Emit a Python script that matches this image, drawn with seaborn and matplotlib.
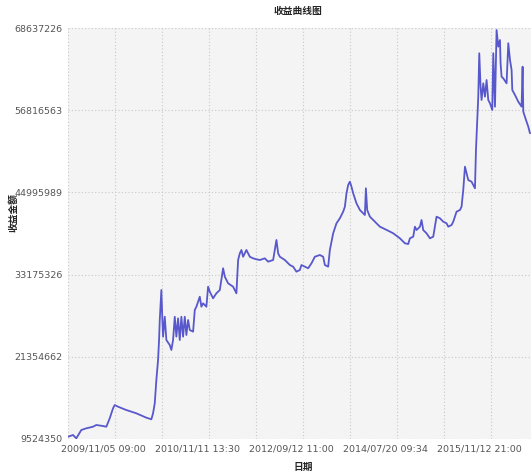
import matplotlib
matplotlib.use("Agg")
import matplotlib.pyplot as plt
import matplotlib.transforms as mtransforms
import seaborn as sns
import pandas as pd

# 收益曲线数据 (按序号取样, 数值单位: 百万)
idx = [0, 50, 83, 133, 183, 250, 283, 350, 383, 417, 450, 467, 500, 583, 683, 783, 833, 850,
       867, 883, 900, 910, 917, 933, 943, 950, 967, 983, 1017, 1033, 1050, 1067, 1083, 1100,
       1117, 1133, 1150, 1167, 1183, 1200, 1217, 1250, 1267, 1283, 1317, 1333, 1350, 1383,
       1400, 1417, 1450, 1483, 1517, 1550, 1567, 1600, 1650, 1683, 1700, 1717, 1733, 1750,
       1783, 1817, 1850, 1883, 1917, 1967, 2000, 2050, 2083, 2100, 2117, 2167, 2217, 2250,
       2283, 2317, 2333, 2367, 2400, 2433, 2467, 2517, 2550, 2567, 2600, 2617, 2650, 2683,
       2717, 2750, 2767, 2783, 2800, 2817, 2833, 2850, 2883, 2917, 2950, 2967, 2977, 2990,
       3017, 3050, 3083, 3117, 3150, 3200, 3250, 3317, 3367, 3400, 3417, 3450, 3467, 3483,
       3517, 3533, 3550, 3583, 3617, 3650, 3667, 3683, 3717, 3750, 3783, 3800, 3833, 3850,
       3867, 3883, 3917, 3933, 3950, 3967, 3983, 4000, 4033, 4067, 4077, 4090, 4100, 4110,
       4123, 4133, 4150, 4167, 4183, 4200, 4217, 4240, 4250, 4267, 4283, 4300, 4317, 4323,
       4333, 4350, 4383, 4400, 4417, 4433, 4440, 4467, 4500, 4533, 4543, 4550, 4577, 4600, 4617]
profit_m = [9.85, 10.10, 9.62, 10.82, 11.06, 11.29, 11.54, 11.39, 11.29, 12.50, 13.94, 14.41,
            14.17, 13.69, 13.22, 12.59, 12.36, 13.22, 14.66, 18.01, 20.89, 23.76, 26.64, 30.95,
            26.64, 24.24, 27.11, 23.76, 23.04, 22.33, 23.76, 27.11, 24.24, 26.88, 23.76, 27.11,
            24.24, 27.11, 24.48, 26.64, 25.20, 24.96, 28.08, 28.55, 29.99, 28.55, 29.04, 28.55,
            31.43, 30.71, 29.76, 30.48, 30.95, 34.08, 32.87, 31.92, 31.43, 30.48, 35.27, 36.23,
            36.71, 35.74, 36.71, 35.74, 35.51, 35.37, 35.27, 35.51, 35.03, 35.27, 38.15, 36.23,
            35.74, 35.27, 34.55, 34.31, 33.59, 33.83, 34.55, 34.31, 34.08, 34.79, 35.74, 35.99,
            35.74, 34.55, 34.31, 36.71, 39.11, 40.55, 41.27, 42.22, 42.94, 44.86, 46.06, 46.53,
            45.81, 44.86, 43.42, 42.46, 41.99, 41.74, 45.58, 42.46, 41.50, 41.02, 40.55, 40.06,
            39.83, 39.48, 39.11, 38.39, 37.67, 37.57, 38.39, 38.62, 40.06, 39.58, 40.06, 41.02,
            39.58, 39.11, 38.39, 38.62, 40.06, 41.50, 41.27, 40.78, 40.55, 40.06, 40.30, 40.78,
            41.50, 42.22, 42.46, 42.94, 45.34, 48.69, 47.74, 46.77, 46.53, 45.58, 51.09, 55.40,
            58.76, 65.00, 60.19, 58.28, 60.68, 58.76, 61.16, 58.28, 57.81, 56.84, 65.00, 57.32,
            68.35, 65.95, 66.91, 63.56, 61.63, 61.40, 60.68, 66.44, 64.04, 62.60, 59.72, 59.00,
            58.04, 57.32, 63.07, 56.60, 55.40, 54.44, 53.49]

y_ticks = [9524350, 21354662, 33175326, 44995989, 56816563, 68637226]
x_ticks = [0, 470, 940, 1410, 1880, 2350, 2820, 3290, 3760, 4230]
x_labels = ["", "2009/11/05 09:00", "", "2010/11/11 13:30", "", "2012/09/12 11:00", "",
            "2014/07/20 09:34", "", "2015/11/12 21:00"]

df = pd.DataFrame({"idx": idx, "profit": [v * 1e6 for v in profit_m]})

sns.set_theme(style="whitegrid")
plt.rcParams["font.family"] = ["Noto Sans CJK SC", "DejaVu Sans"]

fig = plt.figure(figsize=(5.31, 4.76), dpi=100)
ax = fig.add_axes([68 / 531, 1 - 439 / 476, 1 - 68 / 531, 411 / 476])
ax.set_facecolor("#f4f4f4")

sns.lineplot(data=df, x="idx", y="profit", ax=ax, color="#5858cc", linewidth=1.3)

ax.set_xlim(0, 4627)
ax.set_ylim(y_ticks[0], y_ticks[-1])
ax.set_yticks(y_ticks)
ax.set_yticklabels([str(v) for v in y_ticks], family="DejaVu Sans")
ax.set_xticks(x_ticks)
ax.set_xticklabels(x_labels, family="DejaVu Sans")
ax.tick_params(axis="both", labelsize=6.8, colors="#555555", length=2, pad=2)
ax.grid(True, color="#c8c8c8", linestyle=(0, (1, 2)), linewidth=0.8)
ax.set_xlabel("")
ax.set_ylabel("")
for s in ax.spines.values():
    s.set_visible(False)

# 日期标签略微左移
shift = mtransforms.ScaledTranslation(-12 / 100, 0, fig.dpi_scale_trans)
for lab in ax.get_xticklabels():
    lab.set_transform(lab.get_transform() + shift)

fig.text(303 / 531, 1 - 467 / 476, "日期", ha="center", va="center", fontsize=7, fontweight="bold")
fig.text(13 / 531, 1 - 213 / 476, "收益金额", ha="center", va="center", rotation=90,
         fontsize=7, fontweight="bold")
fig.text(298 / 531, 1 - 11 / 476, "收益曲线图", ha="center", va="center", fontsize=7, fontweight="bold")

fig.savefig("out.png", dpi=100)
